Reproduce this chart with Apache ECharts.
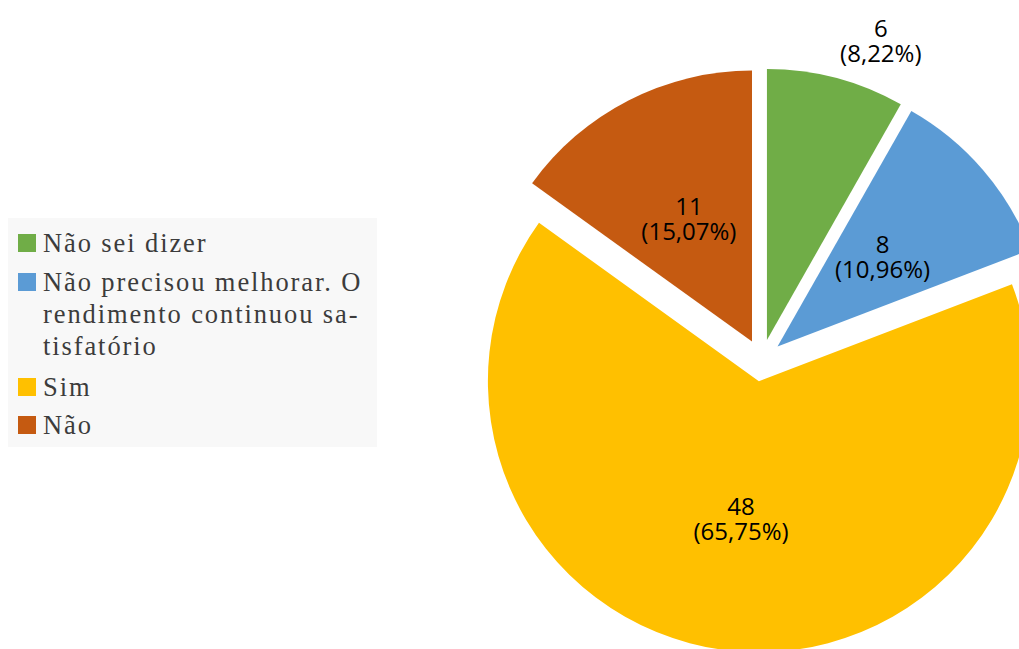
<!DOCTYPE html>
<html>
<head>
<meta charset="utf-8">
<script src="https://cdn.jsdelivr.net/npm/echarts@6/dist/echarts.min.js"></script>
<style>
  html, body { margin: 0; padding: 0; background: #ffffff; }
  #chart { width: 1019px; height: 649px; }
  /* the serif legend text is set a little spread out */
  #chart text[style*="Serif"] { letter-spacing: 1.9px; }
</style>
</head>
<body>
<div id="chart"></div>
<script>
// Answers and how many people gave each one
const categories = [
  'Não sei dizer',
  'Não precisou melhorar. O rendimento continuou satisfatório',
  'Sim',
  'Não'
];
const counts = [6, 8, 48, 11];

// Legend text as broken over lines
const legendText = [
  ['Não sei dizer'],
  ['Não precisou melhorar. O', 'rendimento continuou sa-', 'tisfatório'],
  ['Sim'],
  ['Não']
];

const palette = ['#70AD47', '#5B9BD5', '#FFC000', '#C55A11'];

const chart = echarts.init(document.getElementById('chart'), null, { renderer: 'svg' });

const LEGEND_FONT = '"Liberation Serif", "Times New Roman", serif';
const LABEL_FONT = '"Open Sans", "Liberation Sans", sans-serif';
const LEGEND_LINE = 32;
// vertical centre of each legend entry's first line
const legendRows = [243, 282, 387, 425];

// One legend per entry so each first line sits beside its swatch
const legends = categories.map((name, i) => {
  const lines = legendText[i];
  // pad with blank lines above so the first line is the text block's middle
  const pad = lines.length - 1;
  const text = Array(pad).fill('').concat(lines).join('\n');
  const blockHeight = (lines.length + pad) * LEGEND_LINE;
  return {
    data: [name],
    orient: 'vertical',
    left: 18,
    top: legendRows[i] - blockHeight / 2,
    padding: 0,
    itemGap: 0,
    itemWidth: 18,
    itemHeight: 18,
    icon: 'rect',
    selectedMode: false,
    formatter: () => text,
    textStyle: {
      fontFamily: LEGEND_FONT,
      fontSize: 26.5,
      lineHeight: LEGEND_LINE,
      color: '#3c3c3c',
      padding: [0, 0, 0, 2]
    }
  };
});

const pieData = categories.map((name, i) => {
  const item = {
    name: name,
    value: counts[i],
    selected: true,
    itemStyle: { color: palette[i] }
  };
  if (i === 0) {
    item.label = { position: 'outside' };
    item.labelLine = { show: false, length: 39, length2: -11 };
  }
  return item;
});

chart.setOption({
  animation: false,
  backgroundColor: '#ffffff',
  graphic: [{
    type: 'rect',
    z: -1,
    shape: { x: 8, y: 218, width: 369, height: 229 },
    style: { fill: '#f8f8f8' },
    silent: true
  }],
  legend: legends,
  series: [{
    type: 'pie',
    center: [761.6, 360.3],
    radius: 271,
    startAngle: 90,
    clockwise: true,
    selectedMode: 'multiple',
    selectedOffset: 21,
    avoidLabelOverlap: false,
    itemStyle: { borderWidth: 0 },
    emphasis: { disabled: true },
    label: {
      show: true,
      position: 'inside',
      formatter: p => '{v|' + p.value + '}\n{v|(' + Number(p.percent).toFixed(2).replace('.', ',') + '%)}',
      rich: {
        v: {
          align: 'center',
          fontFamily: LABEL_FONT,
          fontSize: 24,
          lineHeight: 25,
          color: '#000000'
        }
      }
    },
    labelLine: { show: false },
    data: pieData
  }]
});
</script>
</body>
</html>
